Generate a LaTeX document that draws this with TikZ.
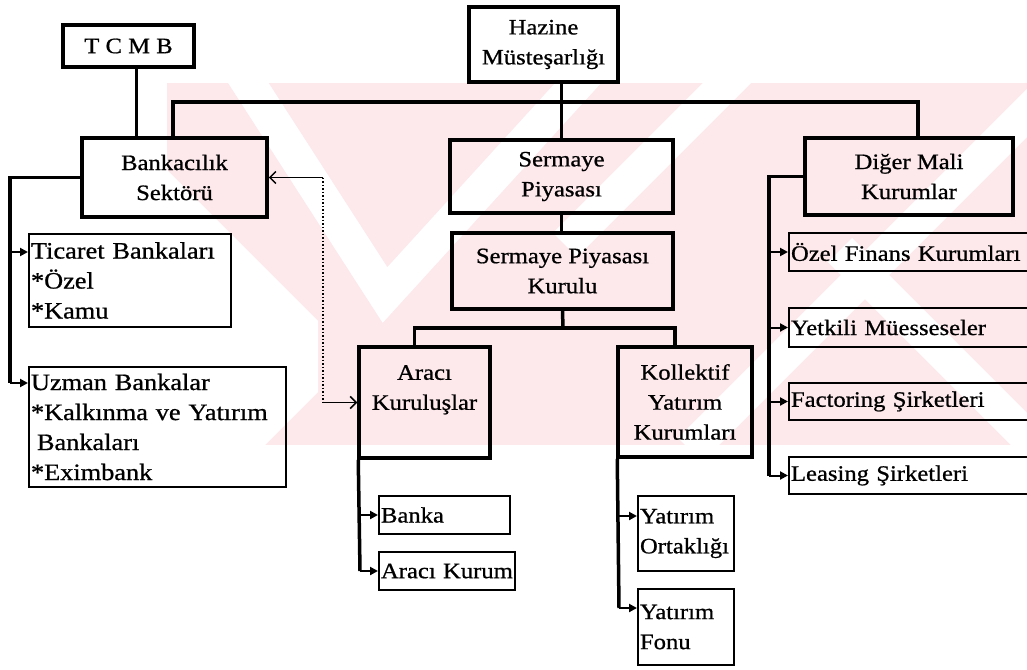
\documentclass[tikz,border=0pt]{standalone}
\usepackage{fontspec}
\setmainfont{Liberation Serif}[FakeStretch=1.12, FakeBold=0.8]
\usepackage{tikz}
\usetikzlibrary{arrows.meta, positioning, calc}
\definecolor{wmpink}{RGB}{253,232,235}
\tikzstyle{mainbox} = [rectangle, draw=black, line width=3.5pt, align=center, inner sep=2pt]
\tikzstyle{subbox}  = [rectangle, draw=black, line width=2pt, align=left, inner sep=2pt, anchor=west]
\tikzstyle{bigtext} = [font=\fontsize{23.5}{30}\selectfont]
\tikzstyle{trunk}   = [line width=3.5pt]
\tikzstyle{branch}  = [line width=2pt, -{Triangle[length=8pt,width=8pt]}]
\tikzstyle{link}    = [line width=1.5pt]

\begin{document}
\begin{tikzpicture}[x=1pt, y=-1pt, every node/.style={font=\fontsize{22}{30}\selectfont}]
  \useasboundingbox (0,0) rectangle (1027,669);
  \clip (0,0) rectangle (1027,669);

  \begin{scope}
    \clip (167,83) rectangle (1027,445);
    \fill[wmpink] (167,83) rectangle (1027,445);
    \draw[white, line width=34pt, line join=miter] (240,70) -- (385,295) -- (590,70);
    \draw[white, line width=34pt] (740,70) -- (565,245);
    \draw[white, line width=34pt] (1040,100) -- (690,450);
    \draw[white, line width=34pt] (840,250) -- (1040,450);
    \fill[white] (167,170) -- (318,321) -- (318,392) -- (265,445) -- (167,445) -- cycle;
  \end{scope}

  \node (tcmb)      [mainbox, minimum width=131, minimum height=42]  at (128.5,46)  {T C M B};
  \node (hazine)    [mainbox, minimum width=149, minimum height=75]  at (543.5,44.5) {Hazine\\Müsteşarlığı};
  \node (bank)      [mainbox, minimum width=185, minimum height=79]  at (174.5,177.5) {Bankacılık\\Sektörü};
  \node (serm)      [mainbox, minimum width=223, minimum height=73]  at (561.5,176.5) {Sermaye\\Piyasası};
  \node (diger)     [mainbox, minimum width=208, minimum height=77]  at (909,176.5) {Diğer Mali\\Kurumlar};
  \node (spk)       [mainbox, minimum width=221, minimum height=76]  at (562.5,271) {Sermaye Piyasası\\Kurulu};
  \node (araci)     [mainbox, minimum width=131, minimum height=111] at (424.5,402.5) {Aracı\\Kuruluşlar\\\mbox{}};
  \node (kollektif) [mainbox, minimum width=134, minimum height=110] at (685,402) {Kollektif\\Yatırım\\Kurumları};

  \node (ticaret)   [subbox, bigtext, text width=198, minimum height=93]  at (28,280.5) {Ticaret Bankaları\\{*}Özel\\{*}Kamu};
  \node (uzman)     [subbox, bigtext, text width=253, minimum height=120] at (28,427) {Uzman Bankalar\\{*}Kalkınma ve Yatırım\\\hspace*{6pt}Bankaları\\{*}Eximbank};
  \node (banka)     [subbox, text width=127, minimum height=38]  at (378,515) {Banka};
  \node (araciK)    [subbox, text width=132, minimum height=38]  at (378,571) {Aracı Kurum};
  \node (yortak)    [subbox, text width=92,  minimum height=75]  at (637,533.5) {Yatırım\\Ortaklığı};
  \node (yfonu)     [subbox, text width=92,  minimum height=76]  at (637,627) {Yatırım\\Fonu};
  \node (ozel)      [subbox, text width=246, minimum height=38]  at (788,252) {Özel Finans Kurumları};
  \node (yetkili)   [subbox, text width=246, minimum height=39]  at (788,327.5) {Yetkili Müesseseler};
  \node (factoring) [subbox, text width=246, minimum height=37]  at (788,401.5) {Factoring Şirketleri};
  \node (leasing)   [subbox, text width=246, minimum height=37]  at (788,475.5) {Leasing Şirketleri};

  \coordinate (bus)  at (560,102);
  \coordinate (fork) at (563,328);
  \draw[trunk] ([xshift=8pt]tcmb.south) -- ([xshift=8pt]tcmb.south |- bank.north);
  \draw[trunk] (serm.north |- hazine.south) -- (serm.north);
  \draw[trunk] ([xshift=-1.5pt]bank.north) |- (bus) -| ([xshift=9pt]diger.north);
  \draw[trunk] (serm.south) -- (serm.south |- spk.north);
  \draw[trunk] (spk.south) -- (fork);
  \draw[trunk] ([xshift=-10pt]araci.north) |- (fork) -| ([xshift=-10pt]kollektif.north);

  \coordinate (bkTic) at (10,252);
  \coordinate (bkUzm) at (10,383);
  \draw[trunk] (bank.west) -| (bkUzm);
  \draw[branch] (bkTic) -- (bkTic -| ticaret.west);
  \draw[branch] (bkUzm) -- (bkUzm -| uzman.west);

  \coordinate (acBanka) at (360,515);
  \coordinate (acKurum) at (360,571);
  \draw[trunk] ([xshift=1pt]araci.south west) -- (acKurum);
  \draw[branch] (acBanka) -- (acBanka -| banka.west);
  \draw[branch] (acKurum) -- (acKurum -| araciK.west);

  \coordinate (kyOrt) at (619,516);
  \coordinate (kyFon) at (619,608);
  \draw[trunk] ([xshift=1pt]kollektif.south west) -- (kyFon);
  \draw[branch] (kyOrt) -- (kyOrt -| yortak.west);
  \draw[branch] (kyFon) -- (kyFon -| yfonu.west);

  \coordinate (dgOzel) at (769,252);
  \coordinate (dgYet)  at (769,327.5);
  \coordinate (dgFac)  at (769,401.5);
  \coordinate (dgLeas) at (769,475.5);
  \draw[trunk] (diger.west) -| (dgLeas);
  \draw[branch] (dgOzel) -- (dgOzel -| ozel.west);
  \draw[branch] (dgYet)  -- (dgYet -| yetkili.west);
  \draw[branch] (dgFac)  -- (dgFac -| factoring.west);
  \draw[branch] (dgLeas) -- (dgLeas -| leasing.west);

  \coordinate (lnkA) at (323,177.5);
  \coordinate (lnkB) at (323,402.5);
  \draw[link, {Straight Barb[length=6pt,width=12pt]}-] (bank.east) -- (lnkA);
  \draw[link, dotted] (lnkA) -- (lnkB);
  \draw[link, -{Straight Barb[length=6pt,width=12pt]}] (lnkB) -- (araci.west);
\end{tikzpicture}
\end{document}
